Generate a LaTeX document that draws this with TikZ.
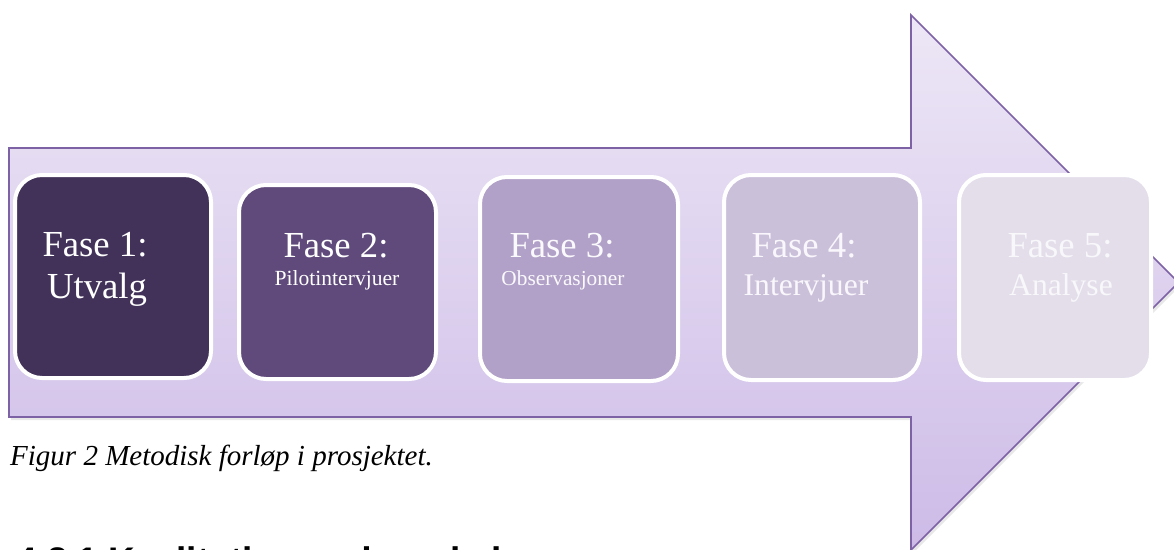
\documentclass[tikz,border=0pt]{standalone}
\usepackage{fontspec}
\setmainfont{Liberation Serif}
\newfontfamily\headfont{Liberation Sans}
\usetikzlibrary{shadows}

\definecolor{arrowtop}{HTML}{EDE7F6}
\definecolor{arrowbot}{HTML}{CDBBE7}
\definecolor{arrowline}{HTML}{7E62A6}
\definecolor{boxA}{HTML}{42325A}
\definecolor{boxB}{HTML}{5F4A7B}
\definecolor{boxC}{HTML}{B1A0C7}
\definecolor{boxD}{HTML}{CBC0DA}
\definecolor{boxE}{HTML}{E4DEEB}

\tikzset{
  phase/.style={draw=white, line width=4pt, rounded corners=27pt, inner sep=0pt},
  bigtxt/.style={anchor=base, inner sep=0pt, text=white, font=\fontsize{36.7}{44}\selectfont},
  midtxt/.style={anchor=base, inner sep=0pt, text=white, font=\fontsize{31.6}{38}\selectfont},
  smalltxt/.style={anchor=base, inner sep=0pt, text=white, font=\fontsize{21.6}{26}\selectfont},
}

\begin{document}
\begin{tikzpicture}[x=1pt,y=-1pt]
\useasboundingbox (0,0) rectangle (1174,549);
\fill[white] (0,0) rectangle (1174,549);

% big arrow
\path[draw=arrowline, line width=1.6pt, top color=arrowtop, bottom color=arrowbot,
      drop shadow={opacity=0.18, shadow xshift=2pt, shadow yshift=-3pt}]
  (9,148) -- (911,148) -- (911,15) -- (1178.5,282.5) -- (911,550) -- (911,417) -- (9,417) -- cycle;

% phase boxes
\node[phase, fill=boxA, minimum width=196pt, minimum height=203pt] (b1) at (113,276.5) {};
\node[phase, fill=boxB, minimum width=197pt, minimum height=194pt] (b2) at (337.5,282) {};
\node[phase, fill=boxC, minimum width=198pt, minimum height=204pt] (b3) at (579,279) {};
\node[phase, fill=boxD, minimum width=196pt, minimum height=205pt] (b4) at (822,277.5) {};
\node[phase, fill=boxE, minimum width=192pt, minimum height=205pt] (b5) at (1055,277.5) {};

% texts
\node[bigtxt] (t1a) at (95,256) {Fase 1:};
\node[bigtxt] (t1b) at (97,298) {Utvalg};
\node[bigtxt] (t2a) at (336,257) {Fase 2:};
\node[smalltxt] (t2b) at (337,285) {Pilotintervjuer};
\node[bigtxt, text=white!94!boxC] (t3a) at (562,257) {Fase 3:};
\node[smalltxt, text=white!94!boxC, font=\fontsize{21.3}{26}\selectfont] (t3b) at (563,285) {Observasjoner};
\node[bigtxt, text=white!88!boxD] (t4a) at (804,257) {Fase 4:};
\node[midtxt, text=white!88!boxD] (t4b) at (806,295) {Intervjuer};
\node[bigtxt, text=white!75!boxE] (t5a) at (1060,257) {Fase 5:};
\node[midtxt, text=white!75!boxE] (t5b) at (1061,295) {Analyse};

% caption and heading
\node[anchor=base west, inner sep=0pt, font=\fontsize{29}{34}\selectfont\itshape] (cap) at (10,465) {Figur 2 Metodisk forløp i prosjektet.};
\node[anchor=base west, inner sep=0pt, font=\headfont\bfseries\fontsize{37}{44}\selectfont] (head) at (16,573) {4.2.1 Kvalitative undersøkelser};
\end{tikzpicture}
\end{document}
